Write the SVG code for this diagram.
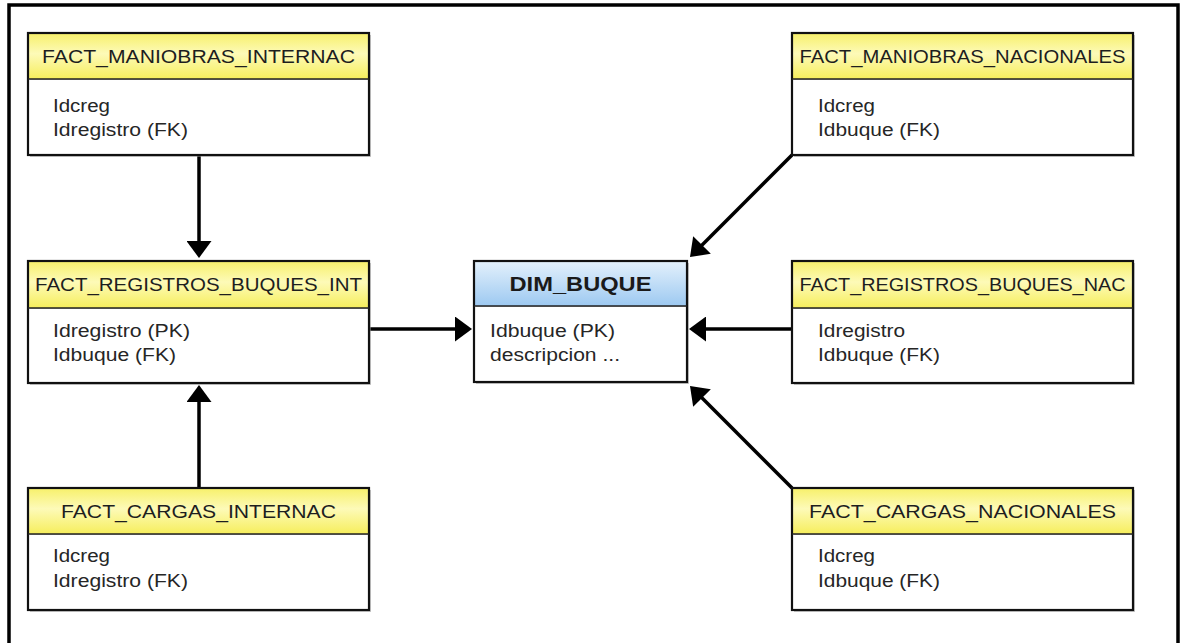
<svg xmlns="http://www.w3.org/2000/svg" width="1180" height="643" viewBox="0 0 1180 643">
  <style>
    .frame { fill: #ffffff; stroke: #000000; stroke-width: 3.5; }
    .shadow { fill: #9a9a9a; opacity: 0.55; }
    .box { fill: none; stroke: #111111; stroke-width: 2.2; }
    .sep { stroke: #222222; stroke-width: 1.6; }
    .head { font-family: "Liberation Sans", Arial, sans-serif; font-size: 19px; fill: #1e1e1e; text-anchor: middle; }
    .headb { font-family: "Liberation Sans", Arial, sans-serif; font-size: 20px; font-weight: bold; fill: #1a1a1a; text-anchor: middle; }
    .attr { font-family: "Liberation Sans", Arial, sans-serif; font-size: 18px; fill: #262626; }
    .link { fill: none; stroke: #000000; stroke-width: 3.5; marker-end: url(#arrow); }
  </style>
  <defs>
    <linearGradient id="fact" x1="0" y1="0" x2="0" y2="1">
      <stop offset="0" stop-color="#f7f06a"/>
      <stop offset="0.45" stop-color="#fdfab8"/>
      <stop offset="1" stop-color="#f6ee5c"/>
    </linearGradient>
    <linearGradient id="dim" x1="0" y1="0" x2="0" y2="1">
      <stop offset="0" stop-color="#e4f1fc"/>
      <stop offset="1" stop-color="#9dc9f1"/>
    </linearGradient>
    <marker id="arrow" viewBox="0 0 17 25" refX="2" refY="12.5" markerWidth="17" markerHeight="25" markerUnits="userSpaceOnUse" orient="auto">
      <path d="M0,0 L17,12.5 L0,25 z" fill="#000000"/>
    </marker>
  </defs>

  <!-- outer frame -->
  <rect class="frame" x="9" y="5" width="1169" height="660"/>

  <!-- connectors -->
  <g id="connectors">
    <line class="link" x1="199" y1="155" x2="199" y2="243"/>
    <line class="link" x1="199" y1="488" x2="199" y2="400"/>
    <line class="link" x1="369" y1="329" x2="457" y2="329"/>
    <line class="link" x1="792" y1="329" x2="704" y2="329"/>
    <line class="link" x1="792" y1="155" x2="700.6" y2="246.4"/>
    <line class="link" x1="792" y1="488" x2="700.6" y2="396.6"/>
  </g>

  <!-- FACT_MANIOBRAS_INTERNAC -->
  <g id="fact_maniobras_internac">
    <rect class="shadow" x="30" y="35" width="341" height="122"/>
    <rect x="28" y="33" width="341" height="46" fill="url(#fact)"/>
    <rect x="29" y="80" width="339" height="74" fill="#ffffff"/>
    <rect class="box" x="28" y="33" width="341" height="122"/>
    <line class="sep" x1="28" y1="79" x2="369" y2="79"/>
    <text class="head" x="198.5" y="63" textLength="313" lengthAdjust="spacingAndGlyphs">FACT_MANIOBRAS_INTERNAC</text>
    <text class="attr" x="53" y="112" textLength="57" lengthAdjust="spacingAndGlyphs">Idcreg</text>
    <text class="attr" x="53" y="136" textLength="135" lengthAdjust="spacingAndGlyphs">Idregistro (FK)</text>
  </g>

  <!-- FACT_MANIOBRAS_NACIONALES -->
  <g id="fact_maniobras_nacionales">
    <rect class="shadow" x="794" y="35" width="341" height="122"/>
    <rect x="792" y="33" width="341" height="46" fill="url(#fact)"/>
    <rect x="793" y="80" width="339" height="74" fill="#ffffff"/>
    <rect class="box" x="792" y="33" width="341" height="122"/>
    <line class="sep" x1="792" y1="79" x2="1133" y2="79"/>
    <text class="head" x="962.5" y="63" textLength="326" lengthAdjust="spacingAndGlyphs">FACT_MANIOBRAS_NACIONALES</text>
    <text class="attr" x="818" y="112" textLength="57" lengthAdjust="spacingAndGlyphs">Idcreg</text>
    <text class="attr" x="818" y="136" textLength="122" lengthAdjust="spacingAndGlyphs">Idbuque (FK)</text>
  </g>

  <!-- FACT_REGISTROS_BUQUES_INT -->
  <g id="fact_registros_buques_int">
    <rect class="shadow" x="30" y="263" width="341" height="122"/>
    <rect x="28" y="261" width="341" height="47" fill="url(#fact)"/>
    <rect x="29" y="309" width="339" height="73" fill="#ffffff"/>
    <rect class="box" x="28" y="261" width="341" height="122"/>
    <line class="sep" x1="28" y1="308" x2="369" y2="308"/>
    <text class="head" x="198.5" y="291" textLength="327" lengthAdjust="spacingAndGlyphs">FACT_REGISTROS_BUQUES_INT</text>
    <text class="attr" x="53" y="337" textLength="137" lengthAdjust="spacingAndGlyphs">Idregistro (PK)</text>
    <text class="attr" x="53" y="361" textLength="123" lengthAdjust="spacingAndGlyphs">Idbuque (FK)</text>
  </g>

  <!-- DIM_BUQUE -->
  <g id="dim_buque">
    <rect class="shadow" x="476" y="263" width="213" height="121"/>
    <rect x="474" y="261" width="213" height="45" fill="url(#dim)"/>
    <rect x="475" y="307" width="211" height="74" fill="#ffffff"/>
    <rect class="box" x="474" y="261" width="213" height="121"/>
    <line class="sep" x1="474" y1="306" x2="687" y2="306"/>
    <text class="headb" x="580.5" y="291" textLength="142" lengthAdjust="spacingAndGlyphs">DIM_BUQUE</text>
    <text class="attr" x="490" y="337" textLength="125" lengthAdjust="spacingAndGlyphs">Idbuque (PK)</text>
    <text class="attr" x="490" y="361" textLength="130" lengthAdjust="spacingAndGlyphs">descripcion ...</text>
  </g>

  <!-- FACT_REGISTROS_BUQUES_NAC -->
  <g id="fact_registros_buques_nac">
    <rect class="shadow" x="794" y="263" width="341" height="122"/>
    <rect x="792" y="261" width="341" height="47" fill="url(#fact)"/>
    <rect x="793" y="309" width="339" height="73" fill="#ffffff"/>
    <rect class="box" x="792" y="261" width="341" height="122"/>
    <line class="sep" x1="792" y1="308" x2="1133" y2="308"/>
    <text class="head" x="962.5" y="291" textLength="326" lengthAdjust="spacingAndGlyphs">FACT_REGISTROS_BUQUES_NAC</text>
    <text class="attr" x="818" y="337" textLength="87" lengthAdjust="spacingAndGlyphs">Idregistro</text>
    <text class="attr" x="818" y="361" textLength="122" lengthAdjust="spacingAndGlyphs">Idbuque (FK)</text>
  </g>

  <!-- FACT_CARGAS_INTERNAC -->
  <g id="fact_cargas_internac">
    <rect class="shadow" x="30" y="490" width="341" height="122"/>
    <rect x="28" y="488" width="341" height="46" fill="url(#fact)"/>
    <rect x="29" y="535" width="339" height="74" fill="#ffffff"/>
    <rect class="box" x="28" y="488" width="341" height="122"/>
    <line class="sep" x1="28" y1="534" x2="369" y2="534"/>
    <text class="head" x="198.5" y="518" textLength="275" lengthAdjust="spacingAndGlyphs">FACT_CARGAS_INTERNAC</text>
    <text class="attr" x="53" y="562" textLength="57" lengthAdjust="spacingAndGlyphs">Idcreg</text>
    <text class="attr" x="53" y="587" textLength="135" lengthAdjust="spacingAndGlyphs">Idregistro (FK)</text>
  </g>

  <!-- FACT_CARGAS_NACIONALES -->
  <g id="fact_cargas_nacionales">
    <rect class="shadow" x="794" y="490" width="341" height="122"/>
    <rect x="792" y="488" width="341" height="46" fill="url(#fact)"/>
    <rect x="793" y="535" width="339" height="74" fill="#ffffff"/>
    <rect class="box" x="792" y="488" width="341" height="122"/>
    <line class="sep" x1="792" y1="534" x2="1133" y2="534"/>
    <text class="head" x="962.5" y="518" textLength="307" lengthAdjust="spacingAndGlyphs">FACT_CARGAS_NACIONALES</text>
    <text class="attr" x="818" y="562" textLength="57" lengthAdjust="spacingAndGlyphs">Idcreg</text>
    <text class="attr" x="818" y="587" textLength="122" lengthAdjust="spacingAndGlyphs">Idbuque (FK)</text>
  </g>
</svg>
